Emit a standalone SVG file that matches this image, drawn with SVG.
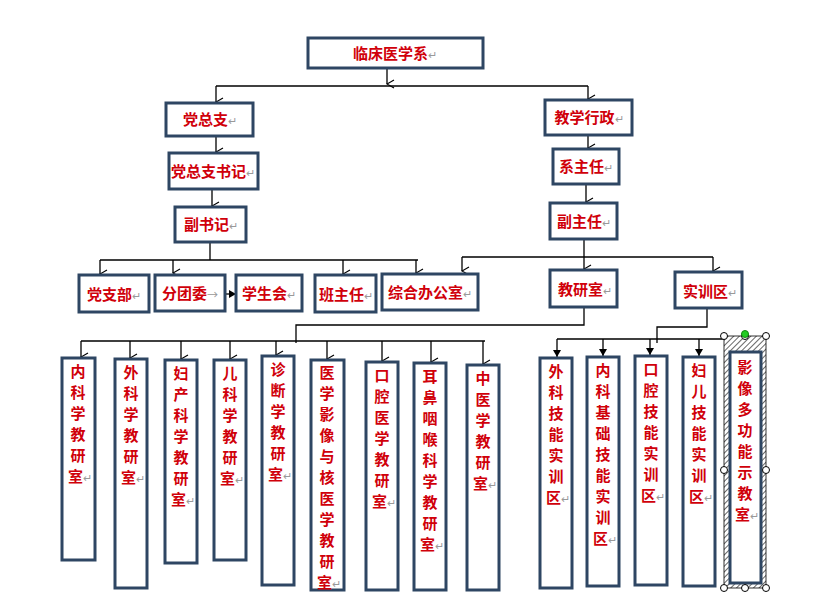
<svg xmlns="http://www.w3.org/2000/svg" width="837" height="602" viewBox="0 0 837 602">
<defs>
<marker id="a" markerWidth="10" markerHeight="10" refX="5" refY="9" orient="auto-start-reverse" markerUnits="userSpaceOnUse" viewBox="0 0 10 10"><path d="M1,2 L5,9 L9,2" fill="none" stroke="#000" stroke-width="1.2"/></marker>
<marker id="b" markerWidth="10" markerHeight="10" refX="5" refY="9" markerUnits="userSpaceOnUse" viewBox="0 0 10 10"><path d="M1,2 L5,9 L9,2 Z" fill="#000"/></marker>
<marker id="c" markerWidth="10" markerHeight="10" refX="9" refY="5" markerUnits="userSpaceOnUse" viewBox="0 0 10 10"><path d="M2,1 L9,5 L2,9 Z" fill="#000"/></marker>
<pattern id="h" width="4" height="4" patternUnits="userSpaceOnUse" patternTransform="rotate(45)"><rect width="4" height="4" fill="#fff"/><line x1="0" y1="0" x2="0" y2="4" stroke="#000" stroke-width="1.2"/></pattern>
</defs>
<style>
.n{fill:#fff;stroke:#2e4663;stroke-width:3}
.t{font-family:"Noto Sans CJK SC",sans-serif;font-weight:bold;font-size:15px;fill:#d0000a}
.r{fill:#999;font-weight:normal;font-size:11px}
.c{fill:none;stroke:#000;stroke-width:1.3}
</style>
<rect width="837" height="602" fill="#fff"/>
<g id="connectors">
<path class="c" d="M387,68 V84" marker-end="url(#a)"/>
<path class="c" d="M216,86 H588"/>
<path class="c" d="M216,86 V102" marker-end="url(#a)"/>
<path class="c" d="M588,86 V99" marker-end="url(#a)"/>
<path class="c" d="M216,136 V152" marker-end="url(#a)"/>
<path class="c" d="M212,189 V206" marker-end="url(#a)"/>
<path class="c" d="M210,242 V260 M100,260 H418"/>
<path class="c" d="M100,260 V274" marker-end="url(#a)"/>
<path class="c" d="M173,260 V273" marker-end="url(#a)"/>
<path class="c" d="M343,260 V274" marker-end="url(#a)"/>
<path class="c" d="M416,260 V273" marker-end="url(#a)"/>
<path class="c" d="M225,294 H236" marker-end="url(#c)"/>
<path class="c" d="M588,135 V148" marker-end="url(#a)"/>
<path class="c" d="M586,184 V202" marker-end="url(#a)"/>
<path class="c" d="M584,239 V257 M462,257 H713"/>
<path class="c" d="M462,257 V271" marker-end="url(#a)"/>
<path class="c" d="M584,257 V269" marker-end="url(#a)"/>
<path class="c" d="M713,257 V271" marker-end="url(#a)"/>
<path class="c" d="M584,307 V325 H296 V343 M81,341 H485"/>
<path class="c" d="M81,341 V357" marker-end="url(#a)"/>
<path class="c" d="M130,341 V358" marker-end="url(#a)"/>
<path class="c" d="M181,341 V359" marker-end="url(#a)"/>
<path class="c" d="M230,341 V359" marker-end="url(#a)"/>
<path class="c" d="M276,341 V355" marker-end="url(#a)"/>
<path class="c" d="M327,341 V359" marker-end="url(#a)"/>
<path class="c" d="M382,341 V361" marker-end="url(#a)"/>
<path class="c" d="M431,341 V362" marker-end="url(#a)"/>
<path class="c" d="M483,341 V364" marker-end="url(#a)"/>
<path class="c" d="M707,308 V327 H657 V343 M557,339 H745"/>
<path class="c" d="M557,339 V357" marker-end="url(#b)"/>
<path class="c" d="M603,339 V356" marker-end="url(#b)"/>
<path class="c" d="M650,339 V355" marker-end="url(#b)"/>
<path class="c" d="M699,339 V356" marker-end="url(#b)"/>
<path class="c" d="M745,333 V352"/>
</g>
<g id="n0"><rect class="n" x="308" y="38" width="175" height="30"/><text class="t" x="395" y="59" text-anchor="middle">临床医学系<tspan class="r">↵</tspan></text></g>
<g id="n1"><rect class="n" x="166" y="103" width="87" height="33"/><text class="t" x="210" y="125" text-anchor="middle">党总支<tspan class="r">↵</tspan></text></g>
<g id="n2"><rect class="n" x="169" y="153" width="89" height="36"/><text class="t" x="213" y="177" text-anchor="middle">党总支书记<tspan class="r">↵</tspan></text></g>
<g id="n3"><rect class="n" x="175" y="207" width="71" height="35"/><text class="t" x="211" y="230" text-anchor="middle">副书记<tspan class="r">↵</tspan></text></g>
<g id="n4"><rect class="n" x="79" y="275" width="70" height="37"/><text class="t" x="114" y="300" text-anchor="middle">党支部<tspan class="r">↵</tspan></text></g>
<g id="n5"><rect class="n" x="155" y="275" width="70" height="36"/><text class="t" x="190" y="299" text-anchor="middle">分团委<tspan class="r">→</tspan></text></g>
<g id="n6"><rect class="n" x="236" y="275" width="66" height="36"/><text class="t" x="269" y="299" text-anchor="middle">学生会<tspan class="r">↵</tspan></text></g>
<g id="n7"><rect class="n" x="315" y="275" width="61" height="37"/><text class="t" x="346" y="300" text-anchor="middle">班主任<tspan class="r">↵</tspan></text></g>
<g id="n8"><rect class="n" x="382" y="274" width="96" height="36"/><text class="t" x="430" y="298" text-anchor="middle">综合办公室<tspan class="r">↵</tspan></text></g>
<g id="n9"><rect class="n" x="545" y="100" width="87" height="35"/><text class="t" x="589" y="123" text-anchor="middle">教学行政<tspan class="r">↵</tspan></text></g>
<g id="n10"><rect class="n" x="553" y="149" width="66" height="35"/><text class="t" x="586" y="172" text-anchor="middle">系主任<tspan class="r">↵</tspan></text></g>
<g id="n11"><rect class="n" x="550" y="203" width="67" height="36"/><text class="t" x="584" y="227" text-anchor="middle">副主任<tspan class="r">↵</tspan></text></g>
<g id="n12"><rect class="n" x="550" y="270" width="67" height="37"/><text class="t" x="585" y="295" text-anchor="middle">教研室<tspan class="r">↵</tspan></text></g>
<g id="n13"><rect class="n" x="675" y="272" width="67" height="36"/><text class="t" x="710" y="297" text-anchor="middle">实训区<tspan class="r">↵</tspan></text></g>
<g id="c1"><rect class="n" x="62" y="358" width="33" height="202"/><text class="t" x="78" y="377" text-anchor="middle"><tspan x="78">内</tspan><tspan x="78" dy="21">科</tspan><tspan x="78" dy="21">学</tspan><tspan x="78" dy="21">教</tspan><tspan x="78" dy="21">研</tspan><tspan x="80" dy="21">室<tspan class="r">↵</tspan></tspan></text></g>
<g id="c2"><rect class="n" x="115" y="359" width="32" height="229"/><text class="t" x="131" y="378" text-anchor="middle"><tspan x="131">外</tspan><tspan x="131" dy="21">科</tspan><tspan x="131" dy="21">学</tspan><tspan x="131" dy="21">教</tspan><tspan x="131" dy="21">研</tspan><tspan x="133" dy="21">室<tspan class="r">↵</tspan></tspan></text></g>
<g id="c3"><rect class="n" x="165" y="360" width="32" height="203"/><text class="t" x="181" y="379" text-anchor="middle"><tspan x="181">妇</tspan><tspan x="181" dy="21">产</tspan><tspan x="181" dy="21">科</tspan><tspan x="181" dy="21">学</tspan><tspan x="181" dy="21">教</tspan><tspan x="181" dy="21">研</tspan><tspan x="183" dy="21">室<tspan class="r">↵</tspan></tspan></text></g>
<g id="c4"><rect class="n" x="214" y="360" width="32" height="200"/><text class="t" x="230" y="379" text-anchor="middle"><tspan x="230">儿</tspan><tspan x="230" dy="21">科</tspan><tspan x="230" dy="21">学</tspan><tspan x="230" dy="21">教</tspan><tspan x="230" dy="21">研</tspan><tspan x="232" dy="21">室<tspan class="r">↵</tspan></tspan></text></g>
<g id="c5"><rect class="n" x="262" y="356" width="32" height="229"/><text class="t" x="278" y="375" text-anchor="middle"><tspan x="278">诊</tspan><tspan x="278" dy="21">断</tspan><tspan x="278" dy="21">学</tspan><tspan x="278" dy="21">教</tspan><tspan x="278" dy="21">研</tspan><tspan x="280" dy="21">室<tspan class="r">↵</tspan></tspan></text></g>
<g id="c6"><rect class="n" x="311" y="360" width="33" height="230"/><text class="t" x="327" y="378" text-anchor="middle"><tspan x="327">医</tspan><tspan x="327" dy="21">学</tspan><tspan x="327" dy="21">影</tspan><tspan x="327" dy="21">像</tspan><tspan x="327" dy="21">与</tspan><tspan x="327" dy="21">核</tspan><tspan x="327" dy="21">医</tspan><tspan x="327" dy="21">学</tspan><tspan x="327" dy="21">教</tspan><tspan x="327" dy="21">研</tspan><tspan x="329" dy="21">室<tspan class="r">↵</tspan></tspan></text></g>
<g id="c7"><rect class="n" x="366" y="362" width="32" height="228"/><text class="t" x="382" y="381" text-anchor="middle"><tspan x="382">口</tspan><tspan x="382" dy="21">腔</tspan><tspan x="382" dy="21">医</tspan><tspan x="382" dy="21">学</tspan><tspan x="382" dy="21">教</tspan><tspan x="382" dy="21">研</tspan><tspan x="384" dy="21">室<tspan class="r">↵</tspan></tspan></text></g>
<g id="c8"><rect class="n" x="414" y="363" width="32" height="227"/><text class="t" x="430" y="382" text-anchor="middle"><tspan x="430">耳</tspan><tspan x="430" dy="21">鼻</tspan><tspan x="430" dy="21">咽</tspan><tspan x="430" dy="21">喉</tspan><tspan x="430" dy="21">科</tspan><tspan x="430" dy="21">学</tspan><tspan x="430" dy="21">教</tspan><tspan x="430" dy="21">研</tspan><tspan x="432" dy="21">室<tspan class="r">↵</tspan></tspan></text></g>
<g id="c9"><rect class="n" x="467" y="365" width="32" height="225"/><text class="t" x="483" y="384" text-anchor="middle"><tspan x="483">中</tspan><tspan x="483" dy="21">医</tspan><tspan x="483" dy="21">学</tspan><tspan x="483" dy="21">教</tspan><tspan x="483" dy="21">研</tspan><tspan x="485" dy="21">室<tspan class="r">↵</tspan></tspan></text></g>
<g id="s1"><rect class="n" x="540" y="358" width="32" height="230"/><text class="t" x="556" y="377" text-anchor="middle"><tspan x="556">外</tspan><tspan x="556" dy="21">科</tspan><tspan x="556" dy="21">技</tspan><tspan x="556" dy="21">能</tspan><tspan x="556" dy="21">实</tspan><tspan x="556" dy="21">训</tspan><tspan x="558" dy="21">区<tspan class="r">↵</tspan></tspan></text></g>
<g id="s2"><rect class="n" x="587" y="357" width="32" height="229"/><text class="t" x="603" y="376" text-anchor="middle"><tspan x="603">内</tspan><tspan x="603" dy="21">科</tspan><tspan x="603" dy="21">基</tspan><tspan x="603" dy="21">础</tspan><tspan x="603" dy="21">技</tspan><tspan x="603" dy="21">能</tspan><tspan x="603" dy="21">实</tspan><tspan x="603" dy="21">训</tspan><tspan x="605" dy="21">区<tspan class="r">↵</tspan></tspan></text></g>
<g id="s3"><rect class="n" x="635" y="356" width="32" height="229"/><text class="t" x="651" y="375" text-anchor="middle"><tspan x="651">口</tspan><tspan x="651" dy="21">腔</tspan><tspan x="651" dy="21">技</tspan><tspan x="651" dy="21">能</tspan><tspan x="651" dy="21">实</tspan><tspan x="651" dy="21">训</tspan><tspan x="653" dy="21">区<tspan class="r">↵</tspan></tspan></text></g>
<g id="s4"><rect class="n" x="683" y="357" width="32" height="229"/><text class="t" x="699" y="376" text-anchor="middle"><tspan x="699">妇</tspan><tspan x="699" dy="21">儿</tspan><tspan x="699" dy="21">技</tspan><tspan x="699" dy="21">能</tspan><tspan x="699" dy="21">实</tspan><tspan x="699" dy="21">训</tspan><tspan x="701" dy="21">区<tspan class="r">↵</tspan></tspan></text></g>
<g id="s5">
<rect x="724" y="336" width="42" height="252" fill="url(#h)" stroke="#000" stroke-width="0.8"/>
<rect class="n" x="730" y="352" width="31" height="231"/>
<circle cx="724" cy="336" r="3.5" fill="#fff" stroke="#000"/><circle cx="745" cy="336" r="3.5" fill="#fff" stroke="#000"/><circle cx="766" cy="336" r="3.5" fill="#fff" stroke="#000"/>
<circle cx="724" cy="470" r="3.5" fill="#fff" stroke="#000"/><circle cx="766" cy="470" r="3.5" fill="#fff" stroke="#000"/>
<circle cx="724" cy="588" r="3.5" fill="#fff" stroke="#000"/><circle cx="745" cy="588" r="3.5" fill="#fff" stroke="#000"/><circle cx="766" cy="588" r="3.5" fill="#fff" stroke="#000"/>
<circle cx="745" cy="334" r="3.5" fill="#22cc22" stroke="#118811"/>
<text class="t" x="745" y="373" text-anchor="middle"><tspan x="745">影</tspan><tspan x="745" dy="21">像</tspan><tspan x="745" dy="21">多</tspan><tspan x="745" dy="21">功</tspan><tspan x="745" dy="21">能</tspan><tspan x="745" dy="21">示</tspan><tspan x="745" dy="21">教</tspan><tspan x="747" dy="21">室<tspan class="r">↵</tspan></tspan></text>
</g>
</svg>
